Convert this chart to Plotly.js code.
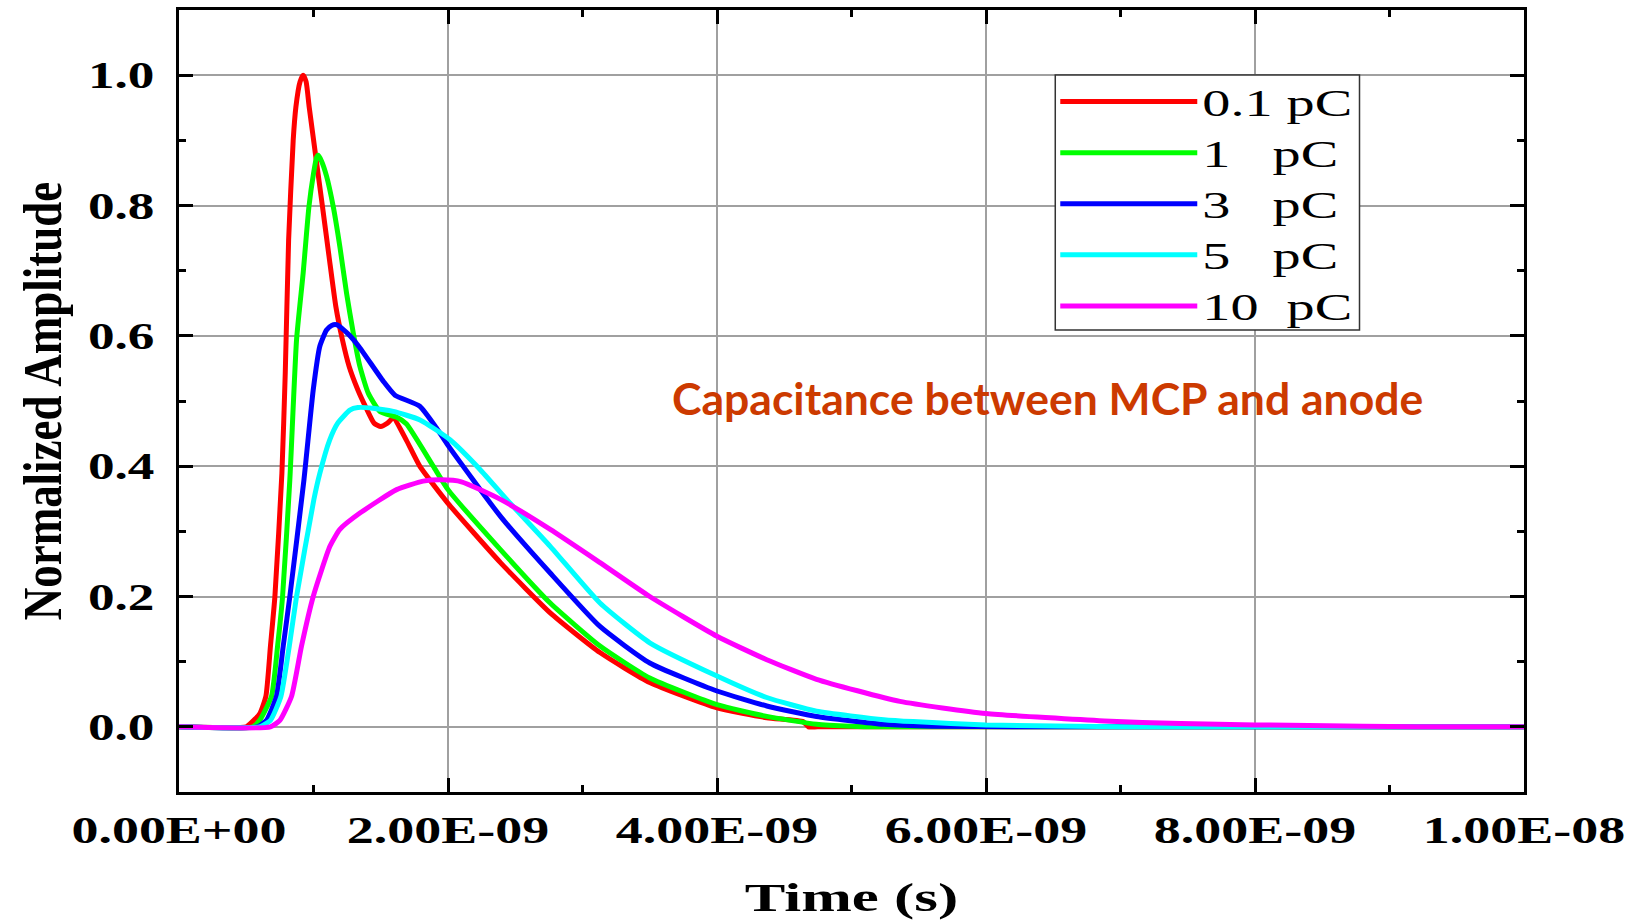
<!DOCTYPE html>
<html>
<head>
<meta charset="utf-8">
<script src="https://cdn.plot.ly/plotly-3.0.1.min.js"></script>
<style>
  html, body { margin: 0; padding: 0; background: #ffffff; }
  #chart { width: 1634px; height: 921px; }
</style>
</head>
<body>
<div id="chart"></div>
<script>
// ---- Data (time in seconds, normalized amplitude) ----
const seriesNames = ["0.1 pC", "1   pC", "3   pC", "5   pC", "10  pC"];
const seriesColors = ["#FF0000", "#00FF00", "#0000FF", "#00FFFF", "#FF00FF"];

const t_01pC = [0, 0.50e-9, 0.53e-9, 0.60e-9, 0.646e-9, 0.68e-9, 0.713e-9, 0.765e-9, 0.79e-9, 0.815e-9, 0.849e-9, 0.869e-9, 0.90e-9, 0.923e-9, 0.945e-9, 0.968e-9, 1.017e-9, 1.067e-9, 1.116e-9, 1.166e-9, 1.215e-9, 1.265e-9, 1.33e-9, 1.39e-9, 1.45e-9, 1.50e-9, 1.55e-9, 1.594e-9, 1.69e-9, 1.79e-9, 2.0e-9, 2.39e-9, 2.76e-9, 3.13e-9, 3.50e-9, 4.0e-9, 4.37e-9, 4.64e-9, 4.68e-9, 4.75e-9, 10e-9];
const a_01pC = [0, 0, 0.005, 0.02, 0.047, 0.124, 0.2, 0.389, 0.543, 0.747, 0.9, 0.951, 0.99, 1.0, 0.99, 0.951, 0.875, 0.798, 0.721, 0.645, 0.594, 0.553, 0.517, 0.49, 0.466, 0.461, 0.466, 0.474, 0.44, 0.40, 0.343, 0.252, 0.175, 0.114, 0.068, 0.029, 0.014, 0.008, 0.0, 0, 0];

const t_1pC = [0, 0.55e-9, 0.60e-9, 0.688e-9, 0.733e-9, 0.77e-9, 0.824e-9, 0.874e-9, 0.923e-9, 0.966e-9, 1.0e-9, 1.023e-9, 1.035e-9, 1.06e-9, 1.097e-9, 1.147e-9, 1.196e-9, 1.246e-9, 1.296e-9, 1.345e-9, 1.407e-9, 1.494e-9, 1.62e-9, 1.69e-9, 1.89e-9, 2.0e-9, 2.39e-9, 2.76e-9, 3.13e-9, 3.50e-9, 4.0e-9, 4.37e-9, 4.74e-9, 5.0e-9, 5.2e-9, 10e-9];
const a_1pC = [0, 0, 0.01, 0.047, 0.124, 0.2, 0.379, 0.594, 0.696, 0.798, 0.849, 0.874, 0.877, 0.868, 0.845, 0.798, 0.737, 0.665, 0.604, 0.553, 0.512, 0.484, 0.475, 0.465, 0.40, 0.364, 0.272, 0.19, 0.124, 0.075, 0.034, 0.016, 0.004, 0.001, 0, 0];

const t_3pC = [0, 0.58e-9, 0.65e-9, 0.725e-9, 0.775e-9, 0.824e-9, 0.929e-9, 0.998e-9, 1.047e-9, 1.097e-9, 1.135e-9, 1.172e-9, 1.22e-9, 1.271e-9, 1.34e-9, 1.52e-9, 1.606e-9, 1.79e-9, 1.913e-9, 2.0e-9, 2.39e-9, 2.76e-9, 3.13e-9, 3.50e-9, 4.0e-9, 4.37e-9, 4.74e-9, 5.24e-9, 5.6e-9, 6.2e-9, 10e-9];
const a_3pC = [0, 0, 0.01, 0.047, 0.124, 0.2, 0.379, 0.517, 0.584, 0.609, 0.616, 0.617, 0.61, 0.6, 0.583, 0.53, 0.509, 0.492, 0.459, 0.432, 0.323, 0.236, 0.154, 0.098, 0.055, 0.032, 0.016, 0.004, 0.001, 0, 0];

const t_5pC = [0, 0.60e-9, 0.68e-9, 0.758e-9, 0.82e-9, 0.874e-9, 1.003e-9, 1.047e-9, 1.12e-9, 1.18e-9, 1.27e-9, 1.33e-9, 1.44e-9, 1.594e-9, 1.792e-9, 2.015e-9, 2.238e-9, 2.436e-9, 2.76e-9, 3.13e-9, 3.50e-9, 4.0e-9, 4.37e-9, 4.74e-9, 5.24e-9, 5.46e-9, 6.0e-9, 7.0e-9, 10e-9];
const a_5pC = [0, 0, 0.01, 0.047, 0.124, 0.2, 0.349, 0.389, 0.44, 0.466, 0.486, 0.49, 0.489, 0.484, 0.471, 0.4405, 0.395, 0.349, 0.277, 0.19, 0.129, 0.078, 0.045, 0.024, 0.011, 0.008, 0.003, 0, 0];

const t_10pC = [0, 0.68e-9, 0.75e-9, 0.837e-9, 0.911e-9, 0.998e-9, 1.122e-9, 1.196e-9, 1.345e-9, 1.618e-9, 1.815e-9, 1.95e-9, 2.1e-9, 2.39e-9, 2.76e-9, 3.13e-9, 3.50e-9, 4.0e-9, 4.37e-9, 4.74e-9, 5.36e-9, 6.0e-9, 6.88e-9, 7.45e-9, 8.0e-9, 8.8e-9, 9.2e-9, 10e-9];
const a_10pC = [0, 0, 0.01, 0.047, 0.124, 0.2, 0.277, 0.303, 0.328, 0.364, 0.377, 0.379, 0.376, 0.349, 0.303, 0.252, 0.2, 0.139, 0.103, 0.073, 0.039, 0.0205, 0.009, 0.005, 0.003, 0.001, 0, 0];

const xTickVals = [0, 2e-9, 4e-9, 6e-9, 8e-9, 1e-8];
const xTickText = ["0.00E+00", "2.00E-09", "4.00E-09", "6.00E-09", "8.00E-09", "1.00E-08"];

const annotationText = "Capacitance between MCP and anode";

// ---- Traces ----
const times = [t_01pC, t_1pC, t_3pC, t_5pC, t_10pC];
const amps = [a_01pC, a_1pC, a_3pC, a_5pC, a_10pC];
const traces = seriesNames.map((name, i) => ({
  type: "scatter",
  mode: "lines",
  name: name,
  x: times[i],
  y: amps[i],
  line: { color: seriesColors[i], width: 5, shape: "spline", smoothing: 0.5 }
}));

const serif = "'Liberation Serif', 'Times New Roman', serif";
const axisCommon = {
  showline: true,
  linecolor: "#000000",
  linewidth: 3,
  mirror: "allticks",
  ticks: "inside",
  ticklen: 14,
  tickwidth: 3,
  tickcolor: "#000000",
  showgrid: true,
  gridcolor: "#a0a0a0",
  gridwidth: 2,
  zeroline: false,
  automargin: false,
  tickfont: { family: serif, size: 38, color: "#000000", weight: "bold" }
};

const layout = {
  width: 1634,
  height: 921,
  margin: { l: 179, r: 110, t: 10, b: 129 },
  paper_bgcolor: "#ffffff",
  plot_bgcolor: "#ffffff",
  showlegend: true,
  xaxis: Object.assign({}, axisCommon, {
    range: [0, 1e-8],
    tickmode: "array",
    tickvals: xTickVals,
    ticktext: xTickText,
    ticklabelstandoff: 2,
    minor: { dtick: 1e-9, tick0: 0, ticks: "inside", ticklen: 7, tickwidth: 3, tickcolor: "#000000", showgrid: false },
    title: { text: "Time (s)", font: { family: serif, size: 40, color: "#000000", weight: "bold" }, standoff: 34 }
  }),
  yaxis: Object.assign({}, axisCommon, {
    range: [-0.1, 1.1],
    tick0: 0,
    dtick: 0.2,
    tickformat: ".1f",
    ticklabelstandoff: 14,
    minor: { dtick: 0.1, tick0: 0, ticks: "inside", ticklen: 7, tickwidth: 3, tickcolor: "#000000", showgrid: false },
    title: { text: "Normalized Amplitude", font: { family: serif, size: 45, color: "#000000", weight: "bold" }, standoff: 32 }
  }),
  legend: {
    x: 0.6515, y: 0.922, xanchor: "left", yanchor: "top",
    bgcolor: "rgba(0,0,0,0)",
    borderwidth: 0,
    itemwidth: 137,
    font: { family: serif, size: 37, color: "#000000" },
    tracegroupgap: 0
  },
  shapes: [{
    type: "rect", xref: "paper", yref: "paper",
    x0: 0.6515, x1: 0.8777, y0: 0.5908, y1: 0.917,
    fillcolor: "#ffffff", line: { color: "#333333", width: 1.5 }, layer: "above"
  }],
  annotations: [{
    x: 6.46e-9, y: 0.506, xref: "x", yref: "y",
    text: annotationText, showarrow: false,
    font: { family: "Lato, 'Open Sans', sans-serif", size: 44.5, color: "#CC3A00", weight: "bold" },
    xanchor: "center", yanchor: "middle"
  }]
};

function stretchText(selector, factor) {
  document.querySelectorAll(selector).forEach(el => {
    const w = el.getComputedTextLength();
    if (w > 0) {
      el.setAttribute("textLength", (w * factor).toFixed(1));
      el.setAttribute("lengthAdjust", "spacingAndGlyphs");
    }
  });
}

function thickenRotated(selector, factor) {
  document.querySelectorAll(selector).forEach(el => {
    const x = parseFloat(el.getAttribute("x"));
    const y = parseFloat(el.getAttribute("y"));
    const tr = el.getAttribute("transform") || "";
    el.setAttribute("transform", tr + " translate(" + x + "," + y + ") scale(1," + factor + ") translate(" + (-x) + "," + (-y) + ")");
  });
}

Plotly.newPlot("chart", traces, layout, { displayModeBar: false, staticPlot: true }).then(() => {
  stretchText("#chart .xtick text", 1.42);
  stretchText("#chart .ytick text", 1.40);
  stretchText("#chart .g-xtitle text", 1.52);
  stretchText("#chart .legendtext", 1.52);
  thickenRotated("#chart .g-ytitle text", 1.2);
  document.querySelectorAll("#chart .legend .scrollbox, #chart .legend").forEach(e => e.removeAttribute("clip-path"));
});
</script>
</body>
</html>
